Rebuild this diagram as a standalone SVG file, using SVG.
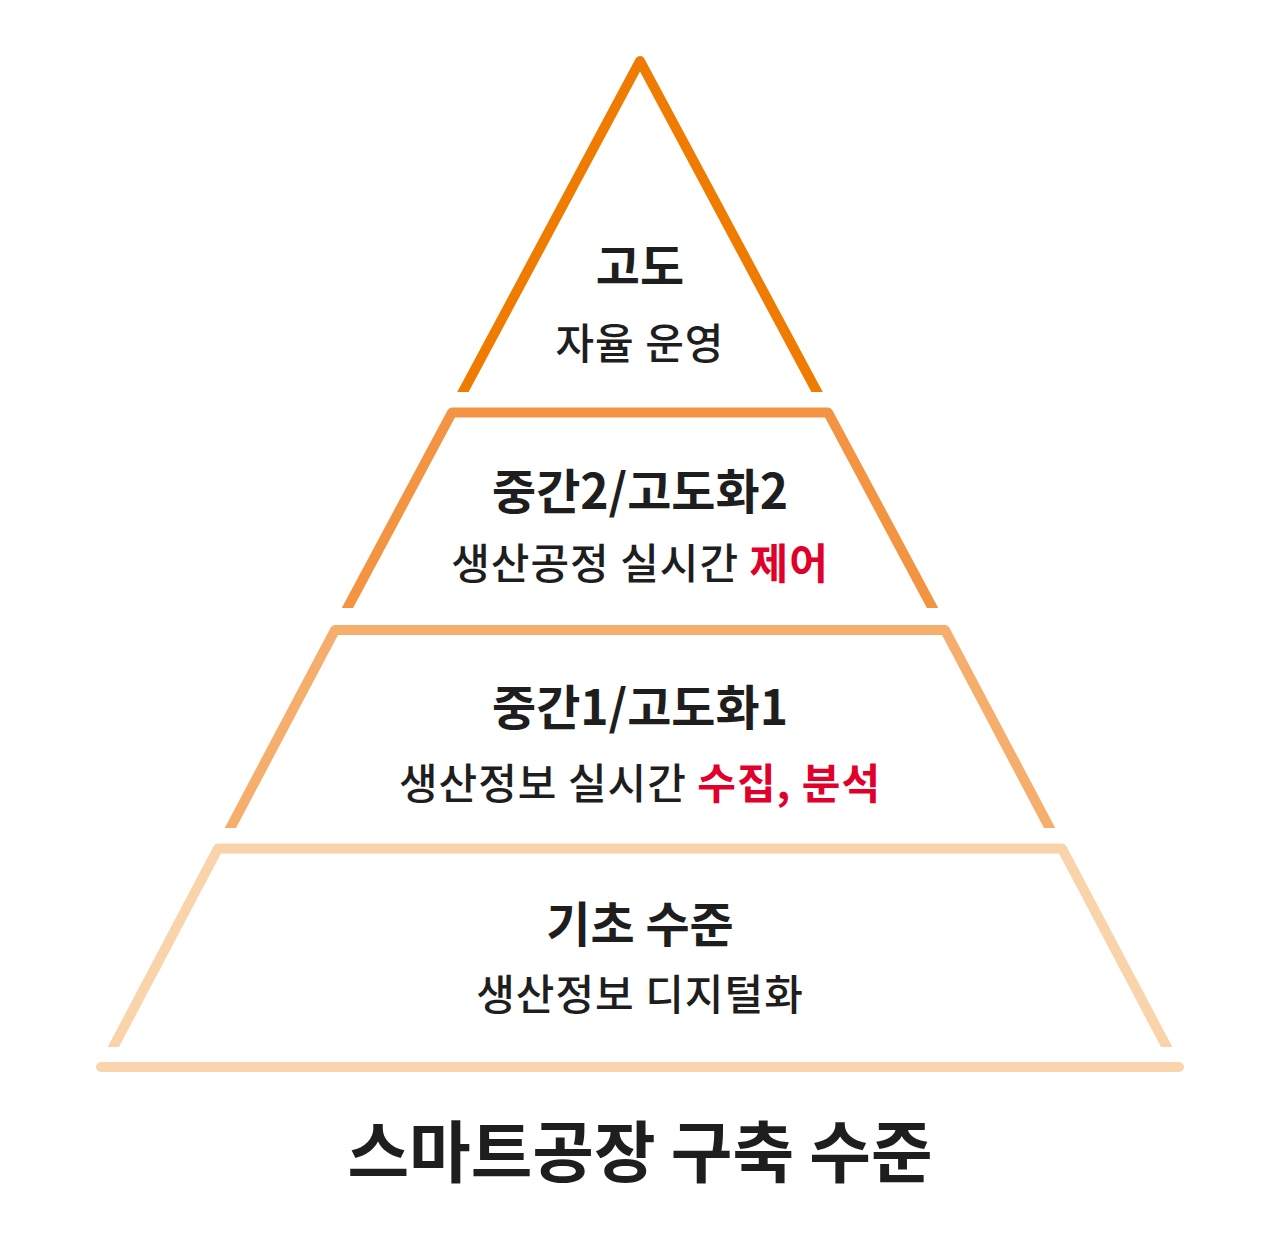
<svg xmlns="http://www.w3.org/2000/svg" width="1280" height="1238" viewBox="0 0 1280 1238">
<style>
.tier{fill:none;stroke-width:10;stroke-linejoin:round;stroke-linecap:butt}
.h{font-family:"Noto Sans CJK KR","Noto Sans",sans-serif;font-weight:700;font-size:48px;fill:#1e1e1e;text-anchor:middle}
.s{font-family:"Noto Sans CJK KR","Noto Sans",sans-serif;font-weight:500;font-size:42px;letter-spacing:1px;fill:#1e1e1e;text-anchor:middle}
.r{fill:#e1002a;font-weight:700}
.t{font-family:"Noto Sans CJK KR","Noto Sans",sans-serif;font-weight:700;font-size:67px;fill:#1e1e1e;text-anchor:middle}
</style>
<defs>
<clipPath id="c1"><rect x="0" y="0" width="1280" height="392"/></clipPath>
<clipPath id="c2"><rect x="0" y="0" width="1280" height="608"/></clipPath>
<clipPath id="c3"><rect x="0" y="0" width="1280" height="828"/></clipPath>
<clipPath id="c4"><rect x="0" y="0" width="1280" height="1047"/></clipPath>
</defs>
<g id="connectors">
<polyline id="tier1-shape" class="tier" clip-path="url(#c1)" stroke="#ef7b00" points="456.5,404 640,61 823.5,404"/>
<polyline id="tier2-shape" class="tier" clip-path="url(#c2)" stroke="#f39442" points="341,620 452,412.5 828,412.5 939,620"/>
<polyline id="tier3-shape" class="tier" clip-path="url(#c3)" stroke="#f6ae6d" points="224,840 335,630 945,630 1056,840"/>
<polyline id="tier4-shape" class="tier" clip-path="url(#c4)" stroke="#f9d3a9" points="107,1059 218,848.5 1062,848.5 1173,1059"/>
<line id="base" x1="101" y1="1067" x2="1179" y2="1067" stroke="#f9d5ad" stroke-width="10" stroke-linecap="round"/>
</g>
<g id="tier1">
<text class="h" x="640" y="284">고도</text>
<text class="s" x="640" y="359">자율 운영</text>
</g>
<g id="tier2">
<text class="h" x="640" y="509">중간2/고도화2</text>
<text class="s" x="640" y="579">생산공정 실시간 <tspan class="r">제어</tspan></text>
</g>
<g id="tier3">
<text class="h" x="640" y="725">중간1/고도화1</text>
<text class="s" x="640" y="799">생산정보 실시간 <tspan class="r">수집, 분석</tspan></text>
</g>
<g id="tier4">
<text class="h" x="640" y="942">기초 수준</text>
<text class="s" x="640" y="1010">생산정보 디지털화</text>
</g>
<g id="title">
<text class="t" x="640" y="1177">스마트공장 구축 수준</text>
</g>
</svg>
